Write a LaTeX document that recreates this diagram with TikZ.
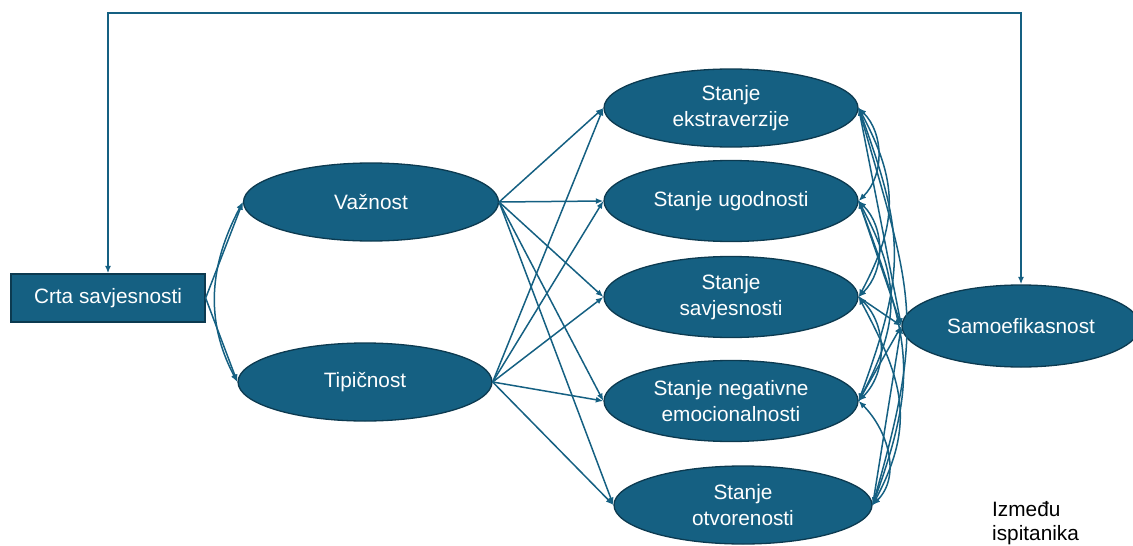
\documentclass[tikz,border=0pt]{standalone}
\usepackage{fontspec}
\setmainfont{Liberation Sans}
\usetikzlibrary{shapes.geometric,arrows.meta}
\definecolor{acc}{HTML}{156082}
\definecolor{edgec}{HTML}{0C3A50}
\begin{document}
\begin{tikzpicture}[x=1pt,y=-1pt,
  ell/.style={ellipse,fill=acc,draw=edgec,line width=1.3pt,inner sep=0pt,text=white,align=center,
    minimum width=254pt,minimum height=78pt,font=\fontsize{20.8}{25.5}\selectfont},
  boxn/.style={rectangle,fill=acc,draw=edgec,line width=1.3pt,inner sep=0pt,text=white,
    minimum width=194pt,minimum height=48pt,font=\fontsize{20.8}{25.5}\selectfont},
  conn/.style={draw=acc,line width=1.5pt,-{Latex[length=7.5pt,width=6pt]}},
  cov/.style={draw=acc,line width=1.5pt,{Latex[length=7.5pt,width=6pt]}-{Latex[length=7.5pt,width=6pt]}}]
\useasboundingbox (0,0) rectangle (1133,546);

\node[boxn] (c) at (108,298) {Crta savjesnosti};
\node[ell,minimum width=255pt] (v) at (371,202) {Važnost};
\node[ell] (t) at (365,382) {Tipičnost};
\node[ell] (e1) at (731,108) {Stanje\\ekstraverzije};
\node[ell,minimum height=81pt] (e2) at (731,201) {Stanje ugodnosti};
\node[ell,minimum height=81pt] (e3) at (731,297) {Stanje\\savjesnosti};
\node[ell,minimum height=81pt] (e4) at (731,401) {Stanje negativne\\emocionalnosti};
\node[ell,minimum width=258pt] (e5) at (743,505) {Stanje\\otvorenosti};
\node[ell,minimum width=238pt,minimum height=82pt] (s) at (1021,326) {Samoefikasnost};
\node[anchor=north west,inner sep=0pt,align=left,text=black,font=\fontsize{20.8}{24.5}\selectfont] (lbl) at (992,501) {Između\\ispitanika};

% top connector
\draw[cov] (c.north) -- (c.north |- 0,13) -| (s.north);

% trait to importance / typicality
\draw[conn] (c.east) -- (v.west);
\draw[conn] (c.east) -- (t.west);
\draw[cov] (v.west) to[out=-118,in=118] (t.west);

% importance / typicality to states
\foreach \n in {e1,e2,e3,e4,e5}{
  \draw[conn] (v.east) -- (\n.west);
  \draw[conn] (t.east) -- (\n.west);
  \draw[conn] (\n.east) -- (s.west);
}

% covariances among states
\draw[cov] (e1.east) to[out=-45,in=45] (e2.east);
\draw[cov] (e1.east) to[out=-62,in=62,looseness=1.15] (e3.east);
\draw[cov] (e1.east) to[out=-70,in=70,looseness=1.2] (e4.east);
\draw[cov] (e1.east) to[out=-74,in=74,looseness=1.25] (e5.east);
\draw[cov] (e2.east) to[out=-45,in=45] (e3.east);
\draw[cov] (e2.east) to[out=-62,in=62,looseness=1.15] (e4.east);
\draw[cov] (e2.east) to[out=-70,in=70,looseness=1.2] (e5.east);
\draw[cov] (e3.east) to[out=-45,in=45] (e4.east);
\draw[cov] (e3.east) to[out=-62,in=62,looseness=1.15] (e5.east);
\draw[cov] (e4.east) to[out=-45,in=45] (e5.east);
\end{tikzpicture}
\end{document}
